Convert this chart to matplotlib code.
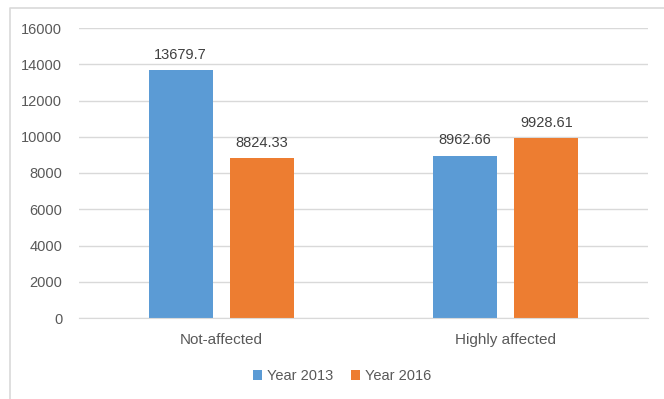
import matplotlib.pyplot as plt
import numpy as np
from matplotlib.lines import Line2D

# data
categories = ['Not-affected', 'Highly affected']
series_names = ['Year 2013', 'Year 2016']
year_2013 = [13679.7, 8962.66]
year_2016 = [8824.33, 9928.61]
labels_2013 = ['13679.7', '8962.66']
labels_2016 = ['8824.33', '9928.61']
yticks = [0, 2000, 4000, 6000, 8000, 10000, 12000, 14000, 16000]

blue = '#5b9bd5'
orange = '#ed7d31'
txt = '#595959'
plt.rcParams['font.family'] = ['Liberation Sans', 'DejaVu Sans']

fig = plt.figure(figsize=(6.64, 3.99), dpi=100)
# chart border (only left and top edges fall inside the picture)
fig.lines.append(Line2D([10/664, 10/664, 1.01], [-0.01, 1-8/399, 1-8/399],
                        transform=fig.transFigure, color='#d9d9d9', linewidth=1.2))
ax = fig.add_axes([79/664, 1-318/399, 569/664, 290/399])

x = np.arange(len(categories))
w = 0.225
off = 0.1425
b1 = ax.bar(x - off, year_2013, w, color=blue, label=series_names[0])
b2 = ax.bar(x + off, year_2016, w, color=orange, label=series_names[1])

for rects, labs in [(b1, labels_2013), (b2, labels_2016)]:
    for r, lab in zip(rects, labs):
        ax.annotate(lab, (r.get_x() + r.get_width()/2, r.get_height()),
                    xytext=(0, 6), textcoords='offset points',
                    ha='center', va='bottom', fontsize=10.5, color='#404040')

ax.set_xlim(-0.5, 1.5)
ax.set_ylim(0, 16000)
ax.set_yticks(yticks)
ax.set_yticklabels([str(t) for t in yticks], fontsize=10.5, color=txt)
ax.set_xticks(x)
ax.set_xticklabels(categories, fontsize=11, color=txt)
ax.tick_params(axis='x', length=0, pad=11)
ax.tick_params(axis='y', length=0, pad=12)
ax.yaxis.grid(True, color='#d9d9d9', linewidth=1)
ax.set_axisbelow(True)
for s in ['top', 'right', 'left']:
    ax.spines[s].set_visible(False)
ax.spines['bottom'].set_color('#d9d9d9')

fig.legend(handles=[b1, b2], loc='center', bbox_to_anchor=(342/664, 1-376/399), ncol=2,
           frameon=False, fontsize=10.5, labelcolor=txt, handlelength=0.62, handleheight=0.62,
           handletextpad=0.35, columnspacing=1.2)

plt.savefig('out.png', dpi=100)
